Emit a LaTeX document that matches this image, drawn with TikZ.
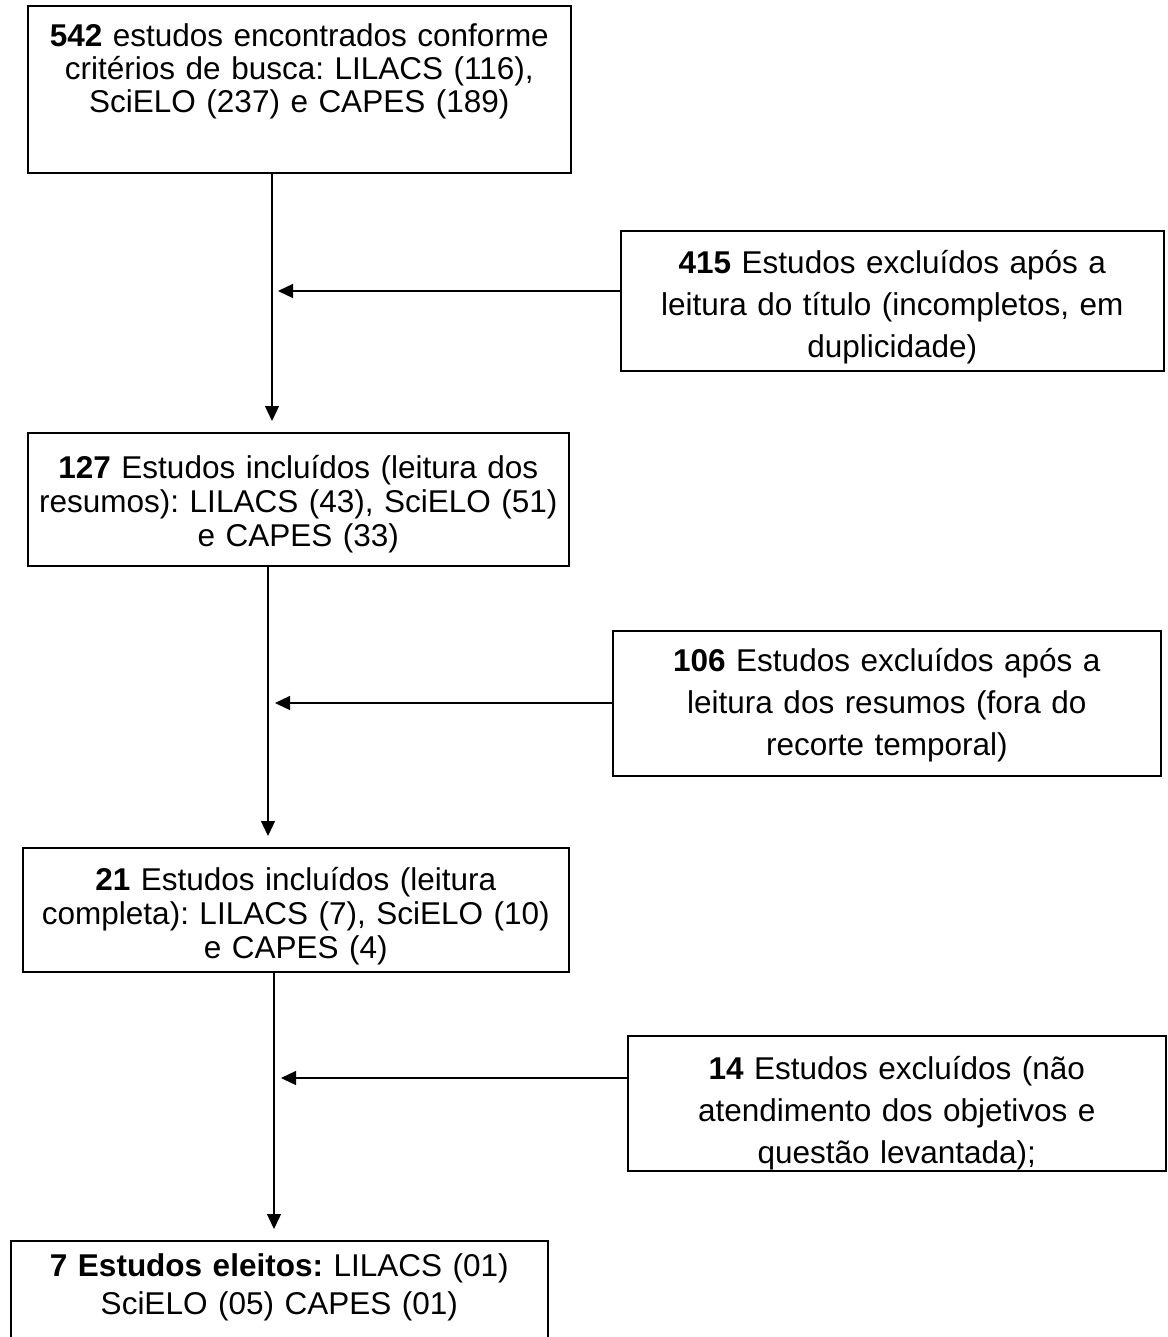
\documentclass[tikz,border=0pt]{standalone}
\usepackage{fontspec}
\setmainfont{Liberation Sans}
\usetikzlibrary{arrows.meta}
\frenchspacing

\begin{document}
\begin{tikzpicture}[x=1pt,y=-1pt,>={Triangle[length=15pt,width=14pt]},
  box/.style={draw=black,line width=1.6pt,inner sep=0pt,align=center,anchor=north west},
  flow/.style={->,line width=1.3pt}]
\clip (0,0) rectangle (1167,1337);
% included studies (left column)
\node[box,text width=543pt,text height=41pt,text depth=126pt,font=\fontsize{31.5}{33}\selectfont] (s0) at (27,5) {\textbf{542} estudos encontrados conforme\\critérios de busca: LILACS (116),\\SciELO (237) e CAPES (189)};
\node[box,text width=541pt,text height=46pt,text depth=87pt,font=\fontsize{31.5}{34}\selectfont] (s1) at (27,432) {\textbf{127} Estudos incluídos (leitura dos\\resumos): LILACS (43), SciELO (51)\\e CAPES (33)};
\node[box,text width=546pt,text height=43pt,text depth=81pt,font=\fontsize{31.5}{34}\selectfont] (s2) at (22,847) {\textbf{21} Estudos incluídos (leitura\\completa): LILACS (7), SciELO (10)\\e CAPES (4)};
\node[box,text width=537pt,text height=36pt,text depth=110pt,font=\fontsize{31.5}{38}\selectfont] (s3) at (10,1240) {\textbf{7 Estudos eleitos:} LILACS (01)\\SciELO (05) CAPES (01)};
% excluded studies (right column)
\node[box,text width=543pt,text height=43pt,text depth=97pt,font=\fontsize{31.5}{42}\selectfont] (ex0) at (620,230) {\textbf{415} Estudos excluídos após a\\leitura do título (incompletos, em\\duplicidade)};
\node[box,text width=548pt,text height=41pt,text depth=104pt,font=\fontsize{31.5}{42}\selectfont] (ex1) at (612,630) {\textbf{106} Estudos excluídos após a\\leitura dos resumos (fora do\\recorte temporal)};
\node[box,text width=538pt,text height=44pt,text depth=91pt,font=\fontsize{31.5}{42}\selectfont] (ex2) at (627,1035) {\textbf{14} Estudos excluídos (não\\atendimento dos objetivos e\\questão levantada);};
% arrow ends
\coordinate (t0) at (272,421);
\coordinate (t1) at (268,836);
\coordinate (t2) at (274,1229);
\coordinate (m0) at (278,291);
\coordinate (m1) at (275,703);
\coordinate (m2) at (281,1078);
\draw[flow] (s0.south -| t0) -- (t0);
\draw[flow] (s1.south -| t1) -- (t1);
\draw[flow] (s2.south -| t2) -- (t2);
\draw[flow] (ex0.west |- m0) -- (m0);
\draw[flow] (ex1.west |- m1) -- (m1);
\draw[flow] (ex2.west |- m2) -- (m2);
\end{tikzpicture}
\end{document}
